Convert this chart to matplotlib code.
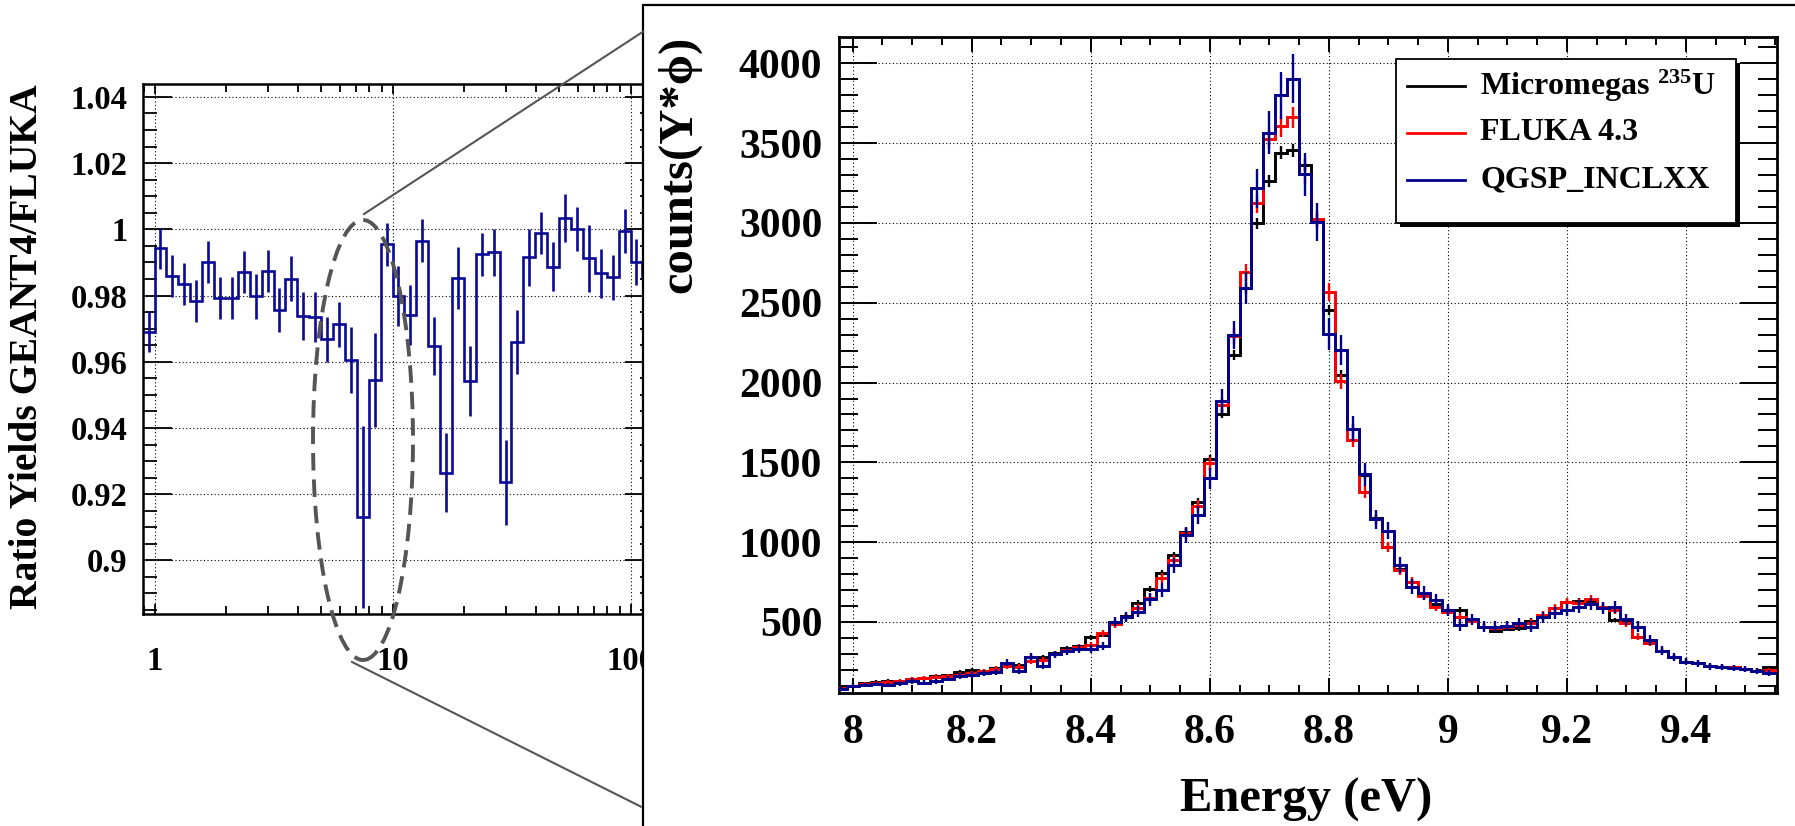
import numpy as np
import matplotlib
matplotlib.use("Agg")
import matplotlib.pyplot as plt
from matplotlib.patches import Rectangle, Ellipse
from matplotlib.lines import Line2D
from matplotlib.ticker import MultipleLocator, FixedLocator, LogLocator, NullFormatter

# ---------------- data: left panel (ratio GEANT4/FLUKA, log-binned, 20 bins/decade) ----------
ratio_first_bin_exp = -1          # first bin starts at 10^(-1/20)
ratio_bins_per_decade = 20
ratio_vals = [0.9691, 0.9943, 0.9859, 0.9834, 0.9784, 0.9902, 0.9793, 0.9793, 0.9872, 0.9798,
              0.9875, 0.9756, 0.9850, 0.9738, 0.9736, 0.9668, 0.9713, 0.9605, 0.9132, 0.9545,
              0.9955, 0.9799, 0.9741, 0.9965, 0.9647, 0.9265, 0.9853, 0.9542, 0.9924, 0.9931,
              0.9236, 0.9659, 0.9915, 0.9988, 0.9887, 1.0035, 1.0001, 0.9912, 0.9867, 0.9855,
              0.9996, 0.9902, 0.9860]
ratio_err = [0.0062, 0.0062, 0.0062, 0.0063, 0.0064, 0.0064, 0.0063, 0.0063, 0.0063, 0.0068,
             0.0064, 0.0066, 0.0068, 0.0073, 0.0075, 0.0068, 0.0068, 0.0100, 0.0275, 0.0143,
             0.0065, 0.0090, 0.0090, 0.0065, 0.0088, 0.0119, 0.0095, 0.0107, 0.0065, 0.0071,
             0.0129, 0.0096, 0.0086, 0.0064, 0.0074, 0.0072, 0.0067, 0.0100, 0.0075, 0.0067,
             0.0066, 0.0070, 0.0070]
ratio_yticks = [0.9, 0.92, 0.94, 0.96, 0.98, 1.0, 1.02, 1.04]
ratio_ylabels = ["0.9", "0.92", "0.94", "0.96", "0.98", "1", "1.02", "1.04"]
ratio_xticks = [1, 10, 100]
ratio_xlabels = ["1", "10", "100"]

# ---------------- data: right panel (counts vs energy, 0.02 eV bins) ----------------
energy_first_edge = 7.97
energy_bin_width = 0.02
micromegas = [85, 100, 118, 126, 133, 128, 145, 152, 160, 165,
              185, 200, 195, 210, 222, 230, 280, 282, 308, 335,
              348, 405, 418, 496, 535, 620, 705, 805, 918, 1065,
              1252, 1520, 1805, 2170, 2590, 2997, 3264, 3439, 3455, 3362,
              3020, 2455, 2048, 1711, 1420, 1149, 972, 835, 753, 670,
              612, 575, 575, 512, 471, 446, 458, 460, 508, 529,
              586, 627, 633, 630, 590, 512, 505, 408, 371, 320,
              279, 251, 241, 226, 220, 215, 205, 195, 216, 216]
fluka = [85, 100, 112, 118, 125, 130, 142, 150, 158, 162,
         170, 180, 192, 208, 222, 220, 255, 262, 300, 325,
         345, 355, 428, 488, 530, 588, 648, 775, 888, 1055,
         1226, 1493, 1858, 2290, 2690, 3122, 3529, 3606, 3661, 3305,
         3024, 2567, 2008, 1640, 1316, 1143, 972, 826, 753, 663,
         596, 565, 533, 508, 471, 460, 467, 481, 496, 544,
         586, 627, 617, 642, 596, 575, 491, 408, 371, 320,
         279, 251, 241, 224, 220, 216, 203, 195, 200, 200]
qgsp = [80, 98, 105, 112, 105, 115, 130, 120, 128, 145,
        160, 168, 178, 188, 245, 192, 282, 225, 298, 318,
        330, 330, 350, 502, 532, 565, 642, 700, 855, 1045,
        1170, 1400, 1885, 2297, 2590, 3216, 3564, 3800, 3904, 3305,
        3007, 2303, 2204, 1712, 1427, 1143, 1072, 857, 721, 679,
        638, 575, 481, 517, 471, 471, 475, 491, 471, 529,
        554, 575, 596, 613, 586, 596, 517, 471, 387, 320,
        279, 251, 241, 222, 218, 214, 203, 195, 182, 182]
micromegas_err = [8, 8, 9, 9, 9, 9, 10, 10, 10, 10,
                  11, 11, 11, 11, 12, 12, 13, 13, 13, 14,
                  14, 15, 15, 16, 16, 17, 18, 19, 20, 22,
                  24, 26, 28, 31, 34, 37, 39, 40, 40, 39,
                  37, 33, 30, 27, 25, 22, 20, 19, 18, 17,
                  16, 16, 16, 15, 14, 14, 14, 14, 15, 15,
                  16, 16, 16, 16, 16, 15, 15, 13, 13, 12,
                  11, 11, 10, 10, 10, 10, 9, 9, 10, 10]
fluka_err = [10, 10, 11, 11, 11, 12, 12, 12, 13, 13,
             14, 14, 14, 15, 15, 15, 17, 17, 18, 19,
             19, 20, 21, 23, 24, 25, 27, 29, 31, 34,
             37, 40, 45, 50, 55, 62, 65, 66, 67, 64,
             60, 55, 48, 44, 40, 35, 32, 30, 28, 26,
             25, 24, 24, 22, 22, 22, 22, 22, 23, 24,
             25, 25, 26, 26, 25, 24, 23, 21, 20, 18,
             17, 16, 15, 15, 15, 15, 14, 14, 14, 14]
qgsp_err = [14, 14, 15, 15, 15, 16, 16, 16, 17, 17,
            18, 18, 19, 19, 20, 20, 22, 22, 23, 24,
            25, 26, 27, 30, 32, 35, 40, 42, 46, 52,
            56, 64, 75, 88, 100, 120, 135, 148, 155, 135,
            120, 100, 92, 80, 72, 60, 55, 50, 46, 44,
            40, 38, 36, 36, 35, 34, 34, 35, 35, 36,
            37, 38, 39, 40, 38, 37, 35, 32, 30, 27,
            24, 22, 21, 20, 20, 19, 19, 18, 18, 18]
series_labels = ["Micromegas $^{235}$U", "FLUKA 4.3", "QGSP_INCLXX"]
series_colors = ["#000000", "#ff0000", "#00008c"]
count_yticks = [500, 1000, 1500, 2000, 2500, 3000, 3500, 4000]
energy_xticks = [8.0, 8.2, 8.4, 8.6, 8.8, 9.0, 9.2, 9.4]
energy_xlabels = ["8", "8.2", "8.4", "8.6", "8.8", "9", "9.2", "9.4"]

# ---------------- style ----------------
plt.rcParams["font.family"] = ["Liberation Serif", "DejaVu Serif"]
plt.rcParams["font.weight"] = "bold"
plt.rcParams["mathtext.fontset"] = "custom"
plt.rcParams["mathtext.rm"] = "Liberation Serif:bold"
plt.rcParams["mathtext.bf"] = "Liberation Serif:bold"
plt.rcParams["mathtext.it"] = "Liberation Serif:bold:italic"

W, H = 1795, 826
fig = plt.figure(figsize=(W / 100, H / 100), dpi=100)
fig.patch.set_facecolor("white")


def fbox(x0, y0, x1, y1):
    """pixel box (top-left origin) -> figure fraction rect"""
    return [x0 / W, 1 - y1 / H, (x1 - x0) / W, (y1 - y0) / H]


def fp(x, y):
    return (x / W, 1 - y / H)


grid_kw = dict(color="black", lw=0.8, linestyle=(0, (1, 2.2)))

# ---------------- left panel ----------------
axL = fig.add_axes(fbox(142.6, 84, 654.3, 614))
axL.set_zorder(0)
n_left = len(ratio_vals)
exps = (np.arange(n_left + 1) + ratio_first_bin_exp) / ratio_bins_per_decade
left_edges = 10 ** exps
left_centers = 10 ** ((exps[:-1] + exps[1:]) / 2)
axL.set_xscale("log")
axL.stairs(ratio_vals, left_edges, color="#0a0a96", lw=1.9, baseline=None, zorder=3)
axL.errorbar(left_centers, ratio_vals, yerr=ratio_err, fmt="none", ecolor="#0a0a96",
             elinewidth=1.9, capsize=0, zorder=3)
axL.set_xlim(left_edges[0], 10 ** 2.1)
axL.set_ylim(0.8838, 1.0439)
axL.xaxis.set_major_locator(FixedLocator(ratio_xticks))
axL.set_xticklabels(ratio_xlabels)
axL.xaxis.set_minor_locator(LogLocator(base=10, subs=np.arange(2, 10)))
axL.xaxis.set_minor_formatter(NullFormatter())
axL.set_yticks(ratio_yticks)
axL.set_yticklabels(ratio_ylabels)
axL.yaxis.set_minor_locator(MultipleLocator(0.005))
axL.tick_params(axis="both", which="both", direction="in", top=True, right=True, width=1.3)
axL.tick_params(axis="y", which="major", length=21, pad=11, labelsize=23.5)
axL.tick_params(axis="y", which="minor", length=10)
axL.tick_params(axis="x", which="major", length=7, pad=23, labelsize=23.5)
axL.tick_params(axis="x", which="minor", length=5.5)
axL.grid(True, which="major", **grid_kw)
axL.set_axisbelow(True)
for s in axL.spines.values():
    s.set_linewidth(1.8)

fig.text(28 / W, 1 - 347 / H, "Ratio Yields GEANT4/FLUKA", rotation=90,
         ha="center", va="center", fontsize=28.5, fontweight="bold")

# zoom ellipse and connector lines
ell = Ellipse(fp(363, 440), 100 / W, 440 / H, angle=0, transform=fig.transFigure,
              fill=False, edgecolor="#555555", lw=2.8, linestyle=(0, (4.5, 2.3)), zorder=1.5)
fig.patches.append(ell)
fig.lines.append(Line2D([364 / W, 643 / W], [1 - 214 / H, 1 - 31.7 / H], transform=fig.transFigure,
                        color="#555555", lw=1.5, zorder=1.5))
fig.lines.append(Line2D([352 / W, 641 / W], [1 - 662 / H, 1 - 806.7 / H], transform=fig.transFigure,
                        color="#555555", lw=1.5, zorder=1.5))

# frame of the zoomed panel (covers the left panel's right end)
frame = Rectangle((643 / W, -0.2), 1.0, 1.2 - 5 / H, transform=fig.transFigure,
                  facecolor="white", edgecolor="black", lw=1.6, zorder=1)
fig.patches.append(frame)

# ---------------- right panel ----------------
axR = fig.add_axes(fbox(839, 37, 1777, 693))
axR.set_zorder(2)
n_right = len(micromegas)
right_edges = energy_first_edge + energy_bin_width * np.arange(n_right + 1)
right_centers = (right_edges[:-1] + right_edges[1:]) / 2
for vals, errs, col in zip([micromegas, fluka, qgsp], [micromegas_err, fluka_err, qgsp_err],
                           series_colors):
    axR.stairs(vals, right_edges, color=col, lw=2.1, baseline=None, zorder=3)
    axR.errorbar(right_centers, vals, yerr=errs, fmt="none", ecolor=col, elinewidth=1.7,
                 capsize=0, zorder=3)
axR.set_xlim(7.977, 9.553)
axR.set_ylim(55, 4165)
axR.set_xticks(energy_xticks)
axR.set_xticklabels(energy_xlabels)
axR.xaxis.set_minor_locator(MultipleLocator(0.05))
axR.set_yticks(count_yticks)
axR.set_yticklabels([str(v) for v in count_yticks])
axR.yaxis.set_minor_locator(MultipleLocator(100))
axR.tick_params(axis="both", which="both", direction="in", top=True, right=True, width=1.4)
axR.tick_params(axis="y", which="major", length=27, pad=12, labelsize=30)
axR.tick_params(axis="y", which="minor", length=14)
axR.tick_params(axis="x", which="major", length=11, pad=15, labelsize=30)
axR.tick_params(axis="x", which="minor", length=6)
axR.grid(True, which="major", **grid_kw)
axR.set_axisbelow(True)
for s in axR.spines.values():
    s.set_linewidth(2.0)

fig.text(679 / W, 1 - 36 / H, "counts(Y*\u03d5)", rotation=90, ha="center", va="top",
         fontsize=35, fontweight="bold", zorder=3)
fig.text(1306 / W, 1 - 800 / H, "Energy (eV)", ha="center", va="center",
         fontsize=35, fontweight="bold", zorder=3)

# legend box (ROOT style with shadow)
lx0, ly0, lx1, ly1 = 1396, 59, 1736, 223
fig.patches.append(Rectangle(fp(lx0 + 4, ly1 + 4), (lx1 - lx0) / W, (ly1 - ly0) / H,
                             transform=fig.transFigure, facecolor="black", edgecolor="black",
                             lw=0, zorder=4))
fig.patches.append(Rectangle(fp(lx0, ly1), (lx1 - lx0) / W, (ly1 - ly0) / H,
                             transform=fig.transFigure, facecolor="white", edgecolor="black",
                             lw=1.3, zorder=4.1))
row_y = [86, 133, 180]
for lab, col, ry in zip(series_labels, series_colors, row_y):
    fig.lines.append(Line2D([1407 / W, 1465 / W], [1 - ry / H, 1 - ry / H],
                            transform=fig.transFigure, color=col, lw=2.0, zorder=4.2))
    fig.text(1480 / W, 1 - ry / H, lab, ha="left", va="center", fontsize=23,
             fontweight="bold", zorder=4.3)

fig.savefig("out.png", dpi=100)
